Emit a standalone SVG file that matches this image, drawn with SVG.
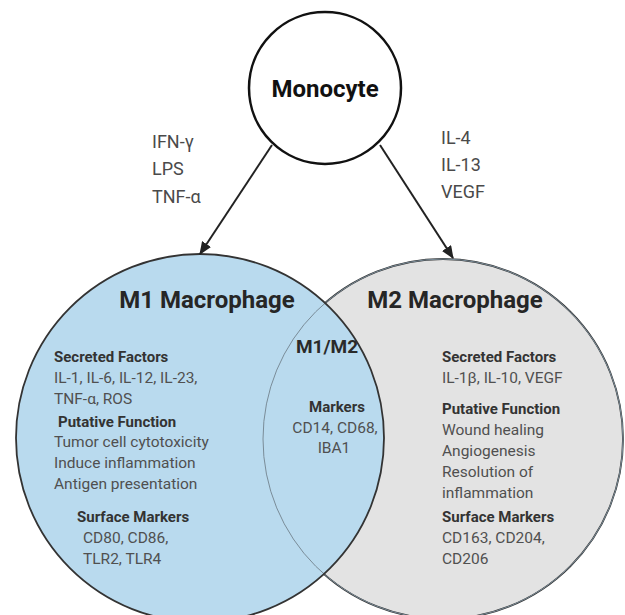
<svg xmlns="http://www.w3.org/2000/svg" width="625" height="615" viewBox="0 0 625 615">
<defs>
<style>
text{font-family:Roboto,"Liberation Sans",Arial,sans-serif}
.t{font-size:15.5px;fill:#505050}
.h{font-size:15px;font-weight:bold;fill:#333}
.ti{font-size:24px;font-weight:bold;fill:#262626}
.lab{font-size:18px;fill:#4a4a4a}
.edge{stroke:#222;stroke-width:2;fill:none}
</style>
<marker id="ah2" viewBox="0 0 12 10" refX="11" refY="5" markerWidth="13" markerHeight="11" markerUnits="userSpaceOnUse" orient="auto">
<path d="M0,0 L12,5 L0,10 z" fill="#222"/>
</marker>
</defs>
<rect width="625" height="615" fill="#fff"/>
<g id="m2">
<circle cx="443" cy="439" r="180" fill="#e3e3e3" stroke="#333" stroke-width="1.8"/>
</g>
<g id="m1">
<circle cx="200" cy="438" r="184" fill="#b9daee"/>
<circle cx="443" cy="439" r="180" fill="none" stroke="#7a8c98" stroke-width="1"/>
<circle cx="200" cy="438" r="184" fill="none" stroke="#333" stroke-width="1.8"/>
<text class="ti" x="207" y="308" text-anchor="middle">M1 Macrophage</text>
<text class="h" x="54" y="362">Secreted Factors</text>
<text class="t" x="54" y="383">IL-1, IL-6, IL-12, IL-23,</text>
<text class="t" x="54" y="404">TNF-α, ROS</text>
<text class="h" x="58" y="427">Putative Function</text>
<text class="t" x="54" y="447">Tumor cell cytotoxicity</text>
<text class="t" x="54" y="468">Induce inflammation</text>
<text class="t" x="54" y="489">Antigen presentation</text>
<text class="h" x="77" y="522">Surface Markers</text>
<text class="t" x="83" y="543">CD80, CD86,</text>
<text class="t" x="83" y="564">TLR2, TLR4</text>
</g>
<g id="m2-text">
<text class="ti" x="455" y="308" text-anchor="middle">M2 Macrophage</text>
<text class="h" x="442" y="362">Secreted Factors</text>
<text class="t" x="442" y="383">IL-1β, IL-10, VEGF</text>
<text class="h" x="442" y="414">Putative Function</text>
<text class="t" x="442" y="435">Wound healing</text>
<text class="t" x="442" y="456">Angiogenesis</text>
<text class="t" x="442" y="477">Resolution of</text>
<text class="t" x="442" y="498">inflammation</text>
<text class="h" x="442" y="522">Surface Markers</text>
<text class="t" x="442" y="543">CD163, CD204,</text>
<text class="t" x="442" y="564">CD206</text>
</g>
<g id="overlap">
<text x="327" y="353" text-anchor="middle" style="font-size:19px;font-weight:bold;fill:#2a2a2a">M1/M2</text>
<text class="h" x="337" y="412" text-anchor="middle">Markers</text>
<text class="t" x="335" y="433" text-anchor="middle">CD14, CD68,</text>
<text class="t" x="334" y="453" text-anchor="middle">IBA1</text>
</g>
<g id="monocyte">
<circle cx="325" cy="88" r="76" fill="#fff" stroke="#111" stroke-width="2.5"/>
<text x="325" y="97" text-anchor="middle" style="font-size:24px;font-weight:bold;fill:#111">Monocyte</text>
</g>
<g id="connectors">
<line class="edge" x1="272" y1="145" x2="200" y2="254" marker-end="url(#ah2)"/>
<line class="edge" x1="380" y1="145" x2="453" y2="258" marker-end="url(#ah2)"/>
<text class="lab" x="152" y="148">IFN-γ</text>
<text class="lab" x="152" y="175">LPS</text>
<text class="lab" x="152" y="203">TNF-α</text>
<text class="lab" x="441" y="144">IL-4</text>
<text class="lab" x="441" y="171">IL-13</text>
<text class="lab" x="441" y="198">VEGF</text>
</g>
</svg>
